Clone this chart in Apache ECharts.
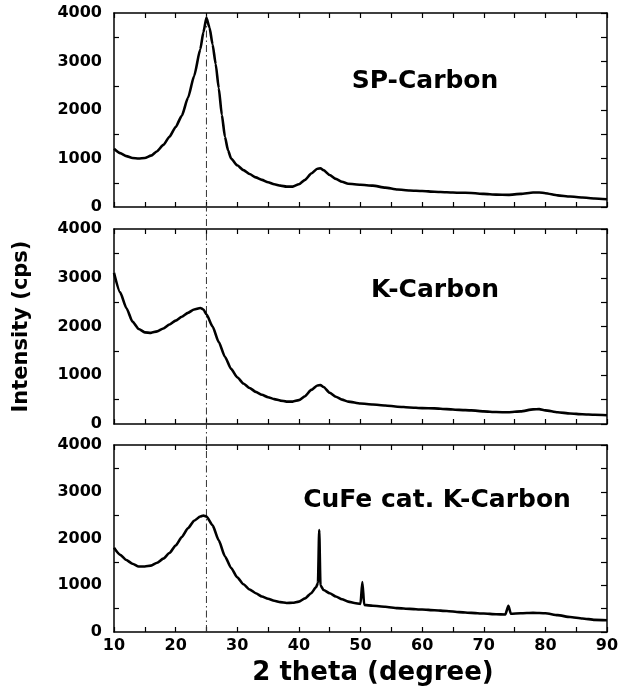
<!DOCTYPE html>
<html>
<head>
<meta charset="utf-8">
<script src="https://cdn.jsdelivr.net/npm/echarts@6/dist/echarts.min.js"></script>
<style>
html,body{margin:0;padding:0;background:#fff;}
#chart{width:628px;height:691px;}
</style>
</head>
<body>
<div id="chart"></div>
<script>
// ---- Data (2θ in degrees, intensity in cps) ----
const panelNames = ['SP-Carbon', 'K-Carbon', 'CuFe cat. K-Carbon'];

const spX = [10,11,12,13,14,15,16,17,18,19,20,21,22,23,24,24.5,25,25.5,26,26.5,27,27.5,28,28.5,29,30,31,32,33,34,35,36,37,38,39,40,41,42,43,43.5,44,45,46,47,48,50,52,54,56,58,60,62,64,66,68,70,72,74,76,78,79,80,82,84,86,88,90];
const spY = [1200,1110,1050,1010,1000,1010,1060,1150,1280,1450,1650,1880,2250,2700,3250,3600,3900,3700,3350,2950,2450,1900,1450,1170,1000,860,760,680,610,560,510,470,440,420,420,470,560,690,790,800,760,660,580,520,480,460,440,400,360,340,330,315,305,295,290,270,255,250,270,300,300,285,240,215,195,175,160];

const kX = [10,11,12,13,14,15,16,17,18,19,20,21,22,23,24,24.5,25,26,27,28,29,30,31,32,33,34,35,36,37,38,39,40,41,42,43,43.5,44,45,46,47,48,50,52,54,56,58,60,62,64,66,68,70,72,74,76,78,79,80,82,84,86,88,90];
const kY = [3100,2700,2380,2100,1950,1880,1870,1900,1960,2040,2120,2200,2280,2350,2380,2350,2250,2000,1680,1380,1130,960,830,740,660,600,550,510,480,460,460,490,570,700,790,800,760,640,560,500,460,420,400,380,355,340,325,320,305,290,280,260,245,240,260,300,305,280,240,215,200,190,180];

const cuX = [10,11,12,13,14,15,16,17,18,19,20,21,22,23,24,24.5,25,26,27,28,29,30,31,32,33,34,35,36,37,38,39,40,41,42,42.8,43.1,43.3,43.5,44,45,46,47,48,49,50,50.3,50.6,52,54,56,58,60,62,64,66,68,70,72,73.5,74,74.4,76,78,80,82,84,86,88,90];
const cuY = [1800,1650,1540,1460,1400,1400,1420,1480,1570,1690,1850,2030,2220,2380,2470,2490,2470,2280,1960,1620,1370,1170,1020,910,830,760,710,670,640,620,625,650,720,830,960,1050,2180,1000,900,830,760,700,650,620,600,1070,580,560,540,510,495,480,465,450,425,410,395,380,375,560,390,400,410,400,360,320,290,260,250];

const refLineX = [25, 25];   // reference line at 2θ = 25°
const refLineY = [0, 1];

const xTicks = { min: 10, max: 90, step: 5, labelStep: 10 };
const yTicks = { min: 0, max: 4000, step: 500, labelStep: 1000 };

// ---- Chart ----
const FONT = 'DejaVu Sans';
const grids = [
  { left: 114, right: 21, top: 13, height: 194 },
  { left: 114, right: 21, top: 229, height: 195 },
  { left: 114, right: 21, top: 445, height: 187 },
  { left: 114, right: 21, top: 13, bottom: 59 }
];
const axisLine = { show: true, onZero: false, lineStyle: { color: '#000', width: 1.5 } };

const xAxes = [], yAxes = [];
for (let i = 0; i < 3; i++) {
  const isBottom = i === 2;
  xAxes.push({
    type: 'value', gridIndex: i, position: 'bottom',
    min: xTicks.min, max: xTicks.max, interval: xTicks.step,
    axisLine, splitLine: { show: false },
    axisTick: { show: true, inside: true, length: 5, lineStyle: { color: '#000', width: 1.2 } },
    axisLabel: {
      show: isBottom, margin: 6, fontFamily: FONT, fontWeight: 'bold', fontSize: 16, color: '#000',
      formatter: v => (v % xTicks.labelStep === 0 ? String(v) : '')
    },
    name: isBottom ? '2 theta (degree)' : '',
    nameLocation: 'middle', nameGap: 28,
    nameTextStyle: { fontFamily: FONT, fontWeight: 'bold', fontSize: 26, color: '#000', padding: [0, 0, 0, 25] }
  });
  xAxes.push({
    type: 'value', gridIndex: i, position: 'top',
    min: xTicks.min, max: xTicks.max, interval: xTicks.step,
    axisLine, splitLine: { show: false },
    axisTick: { show: true, inside: true, length: 5, lineStyle: { color: '#000', width: 1.2 } },
    axisLabel: { show: false }
  });
  yAxes.push({
    type: 'value', gridIndex: i, position: 'left',
    min: yTicks.min, max: yTicks.max, interval: yTicks.labelStep,
    axisLine, splitLine: { show: false }, minorSplitLine: { show: false },
    axisTick: { show: false, inside: true },
    minorTick: { show: true, splitNumber: 2, length: 5, lineStyle: { color: '#000', width: 1.2 } },
    axisLabel: {
      show: true, margin: 12, padding: [4, 0, 0, 0], fontFamily: FONT, fontWeight: 'bold', fontSize: 16, color: '#000',
      formatter: v => String(v)
    },
    name: i === 1 ? 'Intensity (cps)' : '',
    nameLocation: 'middle', nameGap: 82, nameRotate: 90,
    nameTextStyle: { fontFamily: FONT, fontWeight: 'bold', fontSize: 21, color: '#000' }
  });
  yAxes.push({
    type: 'value', gridIndex: i, position: 'right',
    min: yTicks.min, max: yTicks.max, interval: yTicks.step,
    axisLine, splitLine: { show: false },
    axisTick: { show: true, inside: true, length: 6, lineStyle: { color: '#000', width: 1.2 } },
    axisLabel: { show: false }
  });
}
// overlay axes for the vertical reference line spanning all panels
xAxes.push({ type: 'value', gridIndex: 3, min: xTicks.min, max: xTicks.max, show: false });
yAxes.push({ type: 'value', gridIndex: 3, min: 0, max: 1, show: false });

function pairs(xs, ys) { return xs.map((x, k) => [x, ys[k]]); }
const sets = [[spX, spY], [kX, kY], [cuX, cuY]];

const series = [{
  type: 'line', xAxisIndex: 6, yAxisIndex: 6, z: 1,
  data: pairs(refLineX, refLineY), symbol: 'none', silent: true,
  lineStyle: { color: '#333', width: 1, type: [7, 3, 1.5, 3] }
}];
sets.forEach((s, i) => {
  series.push({
    type: 'line', name: panelNames[i], xAxisIndex: 2 * i, yAxisIndex: 2 * i, z: 3,
    data: pairs(s[0], s[1]), symbol: 'none', smooth: 0.2, smoothMonotone: 'x',
    lineStyle: { color: '#000', width: 2.6 }
  });
});

const labelPos = [[425, 81], [435, 290], [437, 500]];
const graphic = panelNames.map((t, i) => ({
  type: 'text', x: labelPos[i][0], y: labelPos[i][1],
  style: { text: t, fill: '#000', font: 'bold 25px "DejaVu Sans"', textAlign: 'center', textVerticalAlign: 'middle' }
}));

const chart = echarts.init(document.getElementById('chart'), null, { renderer: 'canvas' });
chart.setOption({
  animation: false,
  backgroundColor: '#fff',
  grid: grids,
  xAxis: xAxes,
  yAxis: yAxes,
  series,
  graphic
});
</script>
</body>
</html>
